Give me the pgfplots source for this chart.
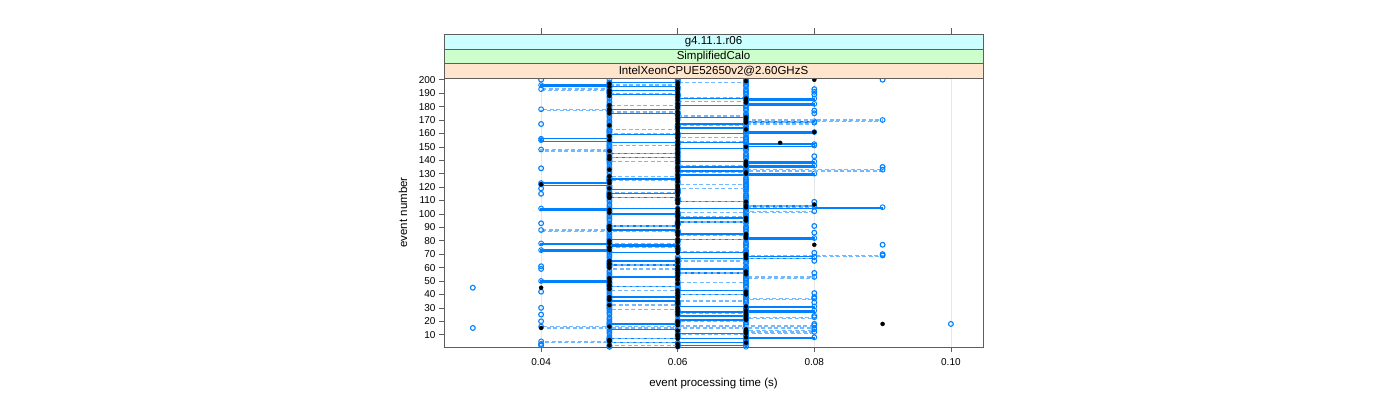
\documentclass[border=0pt]{standalone}
\usepackage{fontspec}
\setmainfont{Liberation Sans}
\usepackage{pgfplots}
\usepackage{pgfplotstable}
\pgfplotsset{compat=1.18}
\usetikzlibrary{calc}

\definecolor{lblue}{HTML}{0080FF}
\definecolor{dblue}{HTML}{73B9FF}
\definecolor{frame}{HTML}{5E5E5E}
\definecolor{stripA}{HTML}{CCFFFF}
\definecolor{stripB}{HTML}{CCFFCC}
\definecolor{stripC}{HTML}{FFE5CC}

% ev = event number, s = run 1 (solid), d = run 2 (dashed),
% e, f = further runs (circles only), m = black points
\pgfplotstableread{
ev s d e f m
1 0.06 0.05 0.05 0.07 0.06
2 0.06 0.05 0.05 0.06 0.05
3 0.07 0.06 0.06 0.07 0.06
4 0.07 0.06 0.05 0.07 0.07
5 0.05 0.04 0.05 0.07 0.05
6 0.05 0.05 0.05 0.07 0.05
7 0.05 0.05 0.05 0.07 0.06
8 0.08 0.06 0.05 0.06 0.07
9 0.07 0.06 0.05 0.07 0.06
10 0.07 0.06 0.06 0.07 0.06
11 0.07 0.07 0.05 0.07 0.07
12 0.06 0.08 0.05 0.07 0.07
13 0.06 0.07 0.05 0.07 0.06
14 0.06 0.08 0.05 0.06 0.07
15 0.05 0.08 0.05 0.07 0.04
16 0.05 0.04 0.05 0.07 0.05
17 0.05 0.08 0.06 0.07 0.06
18 0.05 0.06 0.05 0.07 0.09
19 0.06 0.06 0.05 0.07 0.06
20 0.06 0.06 0.05 0.06 0.06
21 0.06 0.07 0.05 0.07 0.07
22 0.07 0.07 0.05 0.07 0.07
23 0.07 0.08 0.05 0.07 0.07
24 0.07 0.07 0.06 0.07 0.07
25 0.06 0.07 0.05 0.07 0.06
26 0.06 0.07 0.05 0.06 0.07
27 0.06 0.06 0.05 0.07 0.06
28 0.08 0.06 0.05 0.07 0.07
29 0.07 0.06 0.05 0.07 0.06
30 0.07 0.05 0.05 0.07 0.06
31 0.08 0.05 0.06 0.07 0.07
32 0.06 0.05 0.05 0.06 0.05
33 0.06 0.06 0.05 0.07 0.06
34 0.06 0.06 0.05 0.07 0.06
35 0.06 0.06 0.05 0.07 0.06
36 0.05 0.07 0.05 0.07 0.05
37 0.05 0.08 0.05 0.07 0.06
38 0.05 0.07 0.06 0.06 0.05
39 0.06 0.07 0.05 0.07 0.06
40 0.06 0.07 0.05 0.07 0.07
41 0.07 0.06 0.05 0.07 0.06
42 0.07 0.06 0.05 0.07 0.07
43 0.07 0.06 0.05 0.07 0.06
44 0.06 0.05 0.05 0.06 0.05
45 0.06 0.05 0.06 0.07 0.04
46 0.06 0.05 0.05 0.07 0.05
47 0.05 0.06 0.05 0.07 0.05
48 0.05 0.06 0.05 0.07 0.06
49 0.05 0.06 0.05 0.07 0.05
50 0.04 0.07 0.05 0.06 0.05
51 0.05 0.07 0.05 0.07 0.06
52 0.05 0.07 0.06 0.07 0.05
53 0.05 0.08 0.05 0.07 0.06
54 0.06 0.07 0.05 0.07 0.06
55 0.06 0.07 0.05 0.07 0.07
56 0.06 0.07 0.05 0.06 0.06
57 0.07 0.06 0.05 0.07 0.07
58 0.07 0.06 0.05 0.07 0.06
59 0.07 0.06 0.06 0.07 0.06
60 0.06 0.05 0.05 0.07 0.05
61 0.06 0.05 0.05 0.07 0.06
62 0.06 0.05 0.05 0.06 0.05
63 0.05 0.06 0.05 0.07 0.05
64 0.05 0.06 0.05 0.07 0.06
65 0.05 0.06 0.05 0.07 0.05
66 0.06 0.07 0.06 0.07 0.06
67 0.06 0.07 0.05 0.07 0.07
68 0.08 0.08 0.05 0.06 0.07
69 0.07 0.09 0.05 0.07 0.07
70 0.07 0.07 0.05 0.07 0.07
71 0.07 0.07 0.05 0.07 0.06
72 0.05 0.07 0.05 0.07 0.06
73 0.04 0.06 0.06 0.07 0.05
74 0.05 0.06 0.05 0.06 0.06
75 0.05 0.06 0.05 0.07 0.05
76 0.05 0.05 0.05 0.07 0.06
77 0.06 0.05 0.05 0.07 0.08
78 0.04 0.05 0.05 0.07 0.05
79 0.05 0.06 0.05 0.07 0.06
80 0.05 0.06 0.06 0.06 0.05
81 0.05 0.06 0.05 0.07 0.06
82 0.08 0.07 0.05 0.07 0.07
83 0.07 0.07 0.05 0.07 0.07
84 0.07 0.07 0.05 0.07 0.06
85 0.07 0.06 0.05 0.07 0.07
86 0.06 0.06 0.05 0.06 0.06
87 0.06 0.06 0.06 0.07 0.06
88 0.06 0.04 0.05 0.07 0.05
89 0.05 0.05 0.05 0.07 0.05
90 0.05 0.05 0.05 0.07 0.06
91 0.05 0.05 0.05 0.07 0.05
92 0.06 0.06 0.05 0.06 0.06
93 0.06 0.06 0.05 0.07 0.06
94 0.06 0.06 0.06 0.07 0.06
95 0.07 0.07 0.05 0.07 0.07
96 0.07 0.07 0.05 0.07 0.06
97 0.07 0.07 0.05 0.07 0.07
98 0.06 0.07 0.05 0.06 0.06
99 0.06 0.06 0.05 0.07 0.06
100 0.06 0.06 0.05 0.07 0.06
101 0.05 0.06 0.06 0.07 0.05
102 0.05 0.08 0.05 0.07 0.06
103 0.05 0.07 0.05 0.07 0.05
104 0.04 0.07 0.05 0.06 0.06
105 0.09 0.07 0.05 0.07 0.07
106 0.08 0.08 0.05 0.07 0.07
107 0.07 0.07 0.05 0.07 0.08
108 0.07 0.07 0.06 0.07 0.06
109 0.07 0.07 0.05 0.07 0.07
110 0.06 0.06 0.05 0.06 0.06
111 0.06 0.06 0.05 0.07 0.06
112 0.06 0.06 0.05 0.07 0.05
113 0.05 0.05 0.05 0.07 0.05
114 0.05 0.05 0.05 0.07 0.06
115 0.05 0.05 0.06 0.07 0.05
116 0.06 0.05 0.05 0.06 0.06
117 0.06 0.06 0.05 0.07 0.06
118 0.06 0.06 0.05 0.07 0.06
119 0.05 0.06 0.05 0.07 0.05
120 0.05 0.07 0.05 0.07 0.06
121 0.05 0.07 0.05 0.07 0.06
122 0.04 0.07 0.06 0.06 0.04
123 0.04 0.06 0.05 0.07 0.05
124 0.05 0.06 0.05 0.07 0.06
125 0.05 0.06 0.05 0.07 0.05
126 0.05 0.05 0.05 0.07 0.06
127 0.06 0.05 0.05 0.07 0.06
128 0.06 0.05 0.05 0.06 0.05
129 0.06 0.06 0.06 0.07 0.06
130 0.08 0.06 0.05 0.07 0.07
131 0.07 0.06 0.05 0.07 0.07
132 0.07 0.07 0.05 0.07 0.06
133 0.06 0.09 0.05 0.07 0.05
134 0.06 0.07 0.05 0.06 0.06
135 0.06 0.07 0.05 0.07 0.06
136 0.08 0.07 0.06 0.07 0.07
137 0.07 0.06 0.05 0.07 0.07
138 0.07 0.06 0.05 0.07 0.06
139 0.08 0.06 0.05 0.07 0.07
140 0.06 0.05 0.05 0.06 0.06
141 0.06 0.05 0.05 0.07 0.05
142 0.06 0.05 0.05 0.07 0.06
143 0.05 0.06 0.06 0.07 0.05
144 0.05 0.06 0.05 0.07 0.06
145 0.05 0.06 0.05 0.07 0.06
146 0.06 0.05 0.05 0.06 0.06
147 0.06 0.05 0.05 0.07 0.05
148 0.06 0.04 0.05 0.07 0.06
149 0.06 0.05 0.05 0.07 0.06
150 0.07 0.05 0.06 0.07 0.07
151 0.08 0.05 0.05 0.07 0.06
152 0.08 0.06 0.05 0.06 0.06
153 0.07 0.06 0.05 0.07 0.075
154 0.05 0.06 0.05 0.07 0.06
155 0.04 0.07 0.05 0.07 0.05
156 0.04 0.07 0.05 0.07 0.06
157 0.05 0.07 0.06 0.07 0.06
158 0.05 0.06 0.05 0.06 0.05
159 0.05 0.06 0.05 0.07 0.06
160 0.06 0.06 0.05 0.07 0.06
161 0.08 0.05 0.05 0.07 0.08
162 0.07 0.05 0.05 0.07 0.06
163 0.07 0.05 0.05 0.07 0.07
164 0.07 0.06 0.06 0.06 0.06
165 0.06 0.06 0.05 0.07 0.06
166 0.06 0.06 0.05 0.07 0.05
167 0.06 0.07 0.05 0.07 0.06
168 0.07 0.08 0.05 0.07 0.07
169 0.08 0.07 0.05 0.07 0.06
170 0.07 0.09 0.05 0.06 0.07
171 0.07 0.07 0.06 0.07 0.06
172 0.07 0.07 0.05 0.07 0.07
173 0.06 0.07 0.05 0.07 0.06
174 0.06 0.06 0.05 0.07 0.06
175 0.06 0.06 0.05 0.07 0.05
176 0.05 0.06 0.05 0.06 0.06
177 0.05 0.05 0.05 0.07 0.05
178 0.05 0.04 0.06 0.07 0.05
179 0.06 0.05 0.05 0.07 0.06
180 0.06 0.05 0.05 0.07 0.06
181 0.06 0.05 0.05 0.07 0.05
182 0.08 0.06 0.05 0.06 0.06
183 0.07 0.06 0.05 0.07 0.07
184 0.07 0.06 0.05 0.07 0.07
185 0.07 0.07 0.06 0.07 0.06
186 0.08 0.07 0.05 0.07 0.07
187 0.06 0.07 0.05 0.07 0.06
188 0.06 0.06 0.05 0.06 0.05
189 0.06 0.06 0.05 0.07 0.06
190 0.05 0.06 0.05 0.07 0.05
191 0.05 0.05 0.05 0.07 0.06
192 0.05 0.05 0.06 0.07 0.05
193 0.06 0.04 0.05 0.07 0.06
194 0.06 0.05 0.05 0.06 0.06
195 0.06 0.05 0.05 0.07 0.05
196 0.04 0.05 0.05 0.07 0.06
197 0.05 0.06 0.05 0.07 0.05
198 0.05 0.06 0.05 0.07 0.06
199 0.06 0.07 0.06 0.07 0.07
200 0.06 0.07 0.05 0.06 0.08
}\runs

% single circles off the two lines
\pgfplotstableread{
t ev
0.03 45
0.03 15
0.04 200
0.04 167
0.04 134
0.04 119
0.04 115
0.04 93
0.04 61
0.04 59
0.04 42
0.04 30
0.04 25
0.04 20
0.04 3
0.04 2
0.08 193
0.08 191
0.08 189
0.08 177
0.08 175
0.08 143
0.08 109
0.08 91
0.08 86
0.08 71
0.08 65
0.08 56
0.08 41
0.08 38
0.08 34
0.08 24
0.08 18
0.09 200
0.09 135
0.09 77
0.09 70
0.10 18
}\lone

\begin{document}
\begin{tikzpicture}
\begin{axis}[
    name=ax,
    at={(0,0)}, anchor=south west,
    width=539pt, height=269pt, scale only axis,
    xmin=0.02578, xmax=0.1047,
    ymin=0.8, ymax=201.3,
    xtick={0.04,0.06,0.08,0.10},
    xticklabels={0.04,0.06,0.08,0.10},
    ytick={10,20,...,200},
    xtick pos=bottom, ytick pos=left,
    tick align=outside, major tick length=5pt,
    axis line style={frame},
    tick style={frame, line width=0.6pt},
    xmajorgrids, grid style={black!9, line width=0.8pt},
    /pgf/number format/assume math mode=true,
    ticklabel style={font=\fontsize{10}{12}\selectfont},
    xticklabel style={yshift=-3pt},
    label style={font=\fontsize{11.5}{13}\selectfont},
    xlabel={event processing time (s)},
    ylabel={event number},
    xlabel style={at={(axis description cs:0.5,-0.135)}, anchor=center},
    ylabel style={at={(axis description cs:-0.076,0.5)}, anchor=center},
    clip mode=individual,
]

% further runs, circles only
\addplot[only marks, mark=o, mark size=2.4pt,
    mark options={lblue, line width=0.85pt}] table[x=e, y=ev] {\runs};
\addplot[only marks, mark=o, mark size=2.4pt,
    mark options={lblue, line width=0.85pt}] table[x=f, y=ev] {\runs};

% run 1
\addplot[lblue, line width=1.3pt, const plot mark left, mark=o, mark size=2.4pt,
    mark options={solid, lblue, line width=0.95pt}] table[x=s, y=ev] {\runs};

% run 2
\addplot[dblue, line width=1.3pt, const plot mark left, dash pattern=on 4pt off 2.5pt,
    mark=o, mark size=2.4pt,
    mark options={solid, lblue, line width=0.95pt}] table[x=d, y=ev] {\runs};

% lone circles
\addplot[only marks, mark=o, mark size=2.4pt,
    mark options={lblue, line width=1.1pt}] table[x=t, y=ev] {\lone};

% black points
\addplot[only marks, mark=*, mark size=2pt, black] table[x=m, y=ev] {\runs};

% top ticks above the strips
\foreach \v in {0.04,0.06,0.08,0.10} {
    \edef\tmp{\noexpand\draw[frame, line width=0.6pt] ([yshift=43.5pt]axis cs:\v,201.3) -- ([yshift=50pt]axis cs:\v,201.3);}
    \tmp
}
\end{axis}

% strips
\path (ax.north west) coordinate (nw) (ax.north east) coordinate (ne);
\draw[frame, fill=stripC] (nw) rectangle ([yshift=14.5pt]ne);
\draw[frame, fill=stripB] ([yshift=14.5pt]nw) rectangle ([yshift=29pt]ne);
\draw[frame, fill=stripA] ([yshift=29pt]nw) rectangle ([yshift=43.5pt]ne);
\path ($(nw)!0.5!(ne)$) coordinate (mid);
\begin{scope}[every node/.style={font=\fontsize{11.5}{13}\selectfont, inner sep=0pt}]
\node at ([yshift=7.25pt]mid) {IntelXeonCPUE52650v2@2.60GHzS};
\node at ([yshift=21.75pt]mid) {SimplifiedCalo};
\node at ([yshift=36.25pt]mid) {g4.11.1.r06};
\end{scope}

% page: 1400 x 400, panel at (444, 53) from lower left
\pgfresetboundingbox
\path[use as bounding box] ([xshift=-444pt, yshift=-53pt]ax.south west)
    rectangle ([xshift=956pt, yshift=347pt]ax.south west);
\end{tikzpicture}
\end{document}
